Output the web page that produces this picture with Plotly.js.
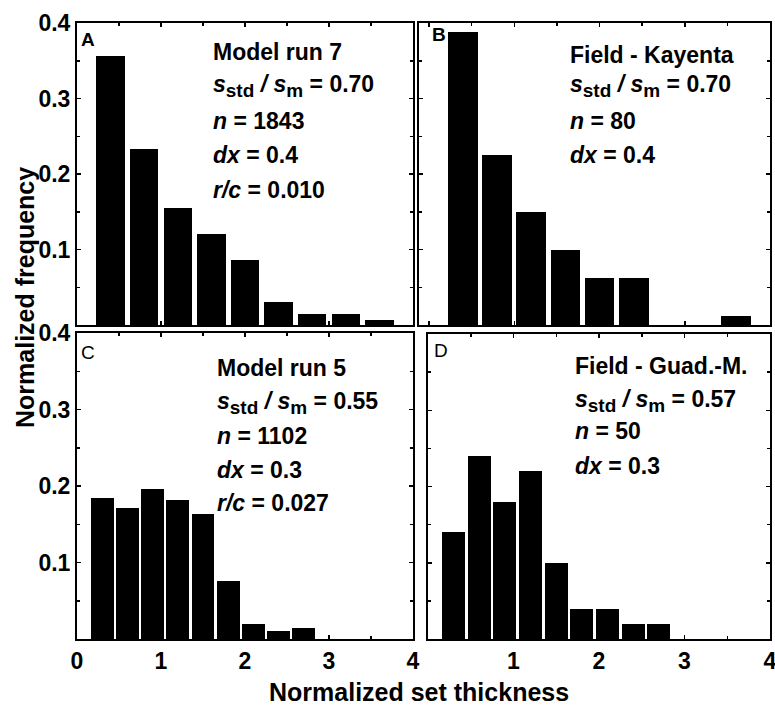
<!DOCTYPE html>
<html>
<head>
<meta charset="utf-8">
<script src="https://cdn.plot.ly/plotly-3.0.1.min.js"></script>
<style>html,body{margin:0;padding:0;background:#fff;}#chart{width:775px;height:711px;}</style>
</head>
<body>
<div id="chart"></div>
<script>
// ---- data ----
const binsA = [0.4, 0.8, 1.2, 1.6, 2.0, 2.4, 2.8, 3.2, 3.6];
const freqA = [0.356, 0.233, 0.155, 0.120, 0.086, 0.031, 0.015, 0.015, 0.006];
const binsB = [0.4, 0.8, 1.2, 1.6, 2.0, 2.4, 2.8, 3.2, 3.6];
const freqB = [0.3875, 0.225, 0.15, 0.1, 0.0625, 0.0625, 0, 0, 0.0125];
const binsC = [0.3, 0.6, 0.9, 1.2, 1.5, 1.8, 2.1, 2.4, 2.7];
const freqC = [0.184, 0.171, 0.196, 0.182, 0.164, 0.076, 0.019, 0.010, 0.014];
const binsD = [0.3, 0.6, 0.9, 1.2, 1.5, 1.8, 2.1, 2.4, 2.7];
const freqD = [0.14, 0.24, 0.18, 0.22, 0.10, 0.04, 0.04, 0.02, 0.02];

const yTicks = [0.1, 0.2, 0.3, 0.4];
const xTicksAll = [0, 1, 2, 3, 4];
const xTicksC = [0, 1, 2, 3, 4];
const xTicksD = [1, 2, 3, 4];

const SUB = t => '<sub><span style="font-size:19px">' + t + '</span></sub>';
const labelsA = ['Model run 7', '<i>s</i>' + SUB('std') + ' <i>/ s</i>' + SUB('m') + ' = 0.70', '<i>n</i> = 1843', '<i>dx</i> = 0.4', '<i>r/c</i> = 0.010'];
const labelsB = ['Field - Kayenta', '<i>s</i>' + SUB('std') + ' <i>/ s</i>' + SUB('m') + ' = 0.70', '<i>n</i> = 80', '<i>dx</i> = 0.4'];
const labelsC = ['Model run 5', '<i>s</i>' + SUB('std') + ' <i>/ s</i>' + SUB('m') + ' = 0.55', '<i>n</i> = 1102', '<i>dx</i> = 0.3', '<i>r/c</i> = 0.027'];
const labelsD = ['Field - Guad.-M.', '<i>s</i>' + SUB('std') + ' <i>/ s</i>' + SUB('m') + ' = 0.57', '<i>n</i> = 50', '<i>dx</i> = 0.3'];

// ---- geometry helpers (pixels -> paper) ----
const W = 775, H = 711;
const px = v => v / W;
const py = v => 1 - v / H;

const narrow = 'Liberation Sans Narrow, Arial Narrow, Liberation Sans, Arial, sans-serif';
const sans = 'Liberation Sans, Arial, Helvetica, sans-serif';

function bar(x, y, xa, ya, w) {
  return {type: 'bar', x: x, y: y, xaxis: xa, yaxis: ya, width: w,
    marker: {color: '#000', line: {width: 0}}, hoverinfo: 'skip', showlegend: false};
}
const data = [
  bar(binsA, freqA, 'x', 'y', 0.34),
  bar(binsB, freqB, 'x2', 'y2', 0.35),
  bar(binsC, freqC, 'x3', 'y3', 0.27),
  bar(binsD, freqD, 'x4', 'y4', 0.27)
];

function xax(dom, range, ticks, anchor, show) {
  return {domain: dom, range: range, anchor: anchor, showgrid: false, zeroline: false,
    showline: true, linewidth: 2, linecolor: '#000', mirror: 'allticks',
    ticks: 'inside', ticklen: 4, tickwidth: 1.5, tickcolor: '#000',
    tickmode: 'array', tickvals: ticks, ticktext: ticks.map(String),
    showticklabels: show, ticklabeloverflow: 'allow',
    minor: {tickmode: 'linear', tick0: 0, dtick: 0.5, ticks: 'inside', ticklen: 3, tickcolor: '#000', tickwidth: 1.5},
    tickfont: {family: narrow, size: 23, color: '#000', weight: 'bold'}, fixedrange: true};
}
function yax(dom, showLabels, anchor) {
  return {domain: dom, range: [0, 0.4], anchor: anchor, showgrid: false, zeroline: false,
    showline: true, linewidth: 2, linecolor: '#000', mirror: 'allticks',
    ticks: 'inside', ticklen: 4, tickwidth: 1.5, tickcolor: '#000',
    tickmode: 'array', tickvals: yTicks,
    ticktext: yTicks.map(v => v.toFixed(1)), showticklabels: showLabels, ticklabeloverflow: 'allow',
    minor: {tickmode: 'linear', tick0: 0, dtick: 0.05, ticks: 'inside', ticklen: 3, tickcolor: '#000', tickwidth: 1.5},
    tickfont: {family: narrow, size: 23, color: '#000', weight: 'bold'}, fixedrange: true};
}

const annotations = [];
function addLines(lines, left, baselines) {
  lines.forEach((t, i) => {
    annotations.push({xref: 'paper', yref: 'paper', x: px(left), y: py(baselines[i] - 7),
      xanchor: 'left', yanchor: 'middle', showarrow: false, text: '<b>' + t + '</b>',
      font: {family: sans, size: 23, color: '#000'}});
  });
}
addLines(labelsA, 211, [59, 93, 128, 162, 197]);
addLines(labelsB, 568, [62, 93, 128, 162]);
addLines(labelsC, 215, [375, 410, 443, 477, 510]);
addLines(labelsD, 573, [373, 408, 438, 473]);

function letter(t, x, y, bold) {
  annotations.push({xref: 'paper', yref: 'paper', x: px(x), y: py(y), xanchor: 'left', yanchor: 'middle',
    showarrow: false, text: bold ? '<b>' + t + '</b>' : t, font: {family: sans, size: 19, color: '#000'}});
}
letter('A', 79, 39, true);
letter('B', 430, 34, true);
letter('C', 79, 352, false);
letter('D', 432, 350, false);

annotations.push({xref: 'paper', yref: 'paper', x: px(25), y: py(298), xanchor: 'center', yanchor: 'middle',
  textangle: -90, showarrow: false, text: '<b>Normalized frequency</b>', font: {family: sans, size: 25, color: '#000'}});
annotations.push({xref: 'paper', yref: 'paper', x: px(419), y: py(692), xanchor: 'center', yanchor: 'middle',
  showarrow: false, text: '<b>Normalized set thickness</b>', font: {family: sans, size: 25, color: '#000'}});

const layout = {
  width: W, height: H, margin: {l: 0, r: 0, t: 0, b: 0},
  paper_bgcolor: '#fff', plot_bgcolor: '#fff', showlegend: false, bargap: 0,
  xaxis: xax([px(77), px(413)], [0, 4], xTicksAll, 'y', false),
  yaxis: yax([py(325), py(23)], true, 'x'),
  xaxis2: xax([px(419), px(770)], [-0.118, 4], xTicksAll, 'y2', false),
  yaxis2: yax([py(325), py(23)], false, 'x2'),
  xaxis3: xax([px(77), px(413)], [0, 4], xTicksC, 'y3', true),
  yaxis3: yax([py(639), py(333)], true, 'x3'),
  xaxis4: xax([px(428), px(770)], [0, 4], xTicksD, 'y4', true),
  yaxis4: yax([py(639), py(334)], false, 'x4'),
  annotations: annotations
};

Plotly.newPlot('chart', data, layout, {staticPlot: true, displayModeBar: false});
</script>
</body>
</html>
